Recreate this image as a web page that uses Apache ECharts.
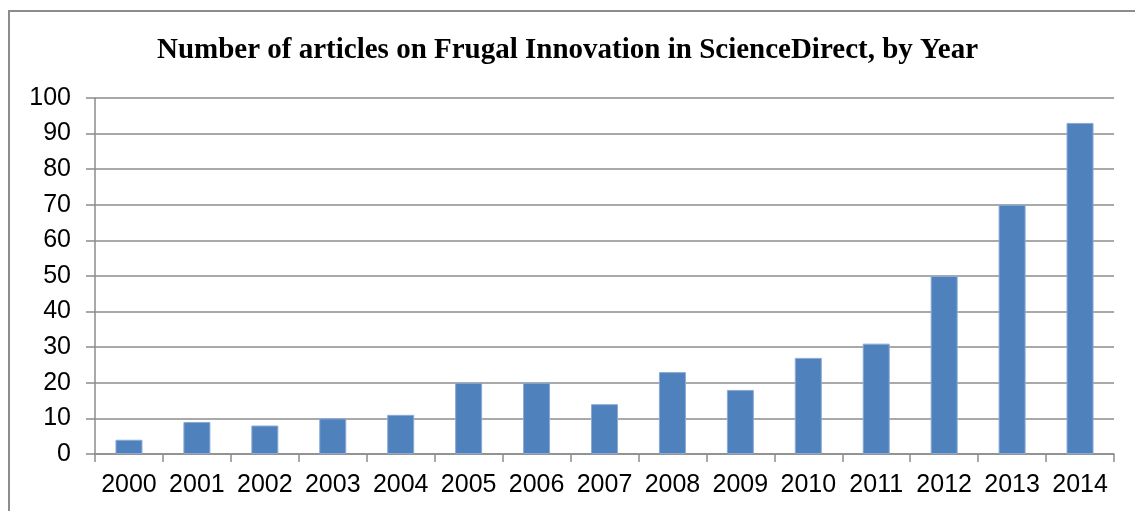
<!DOCTYPE html>
<html>
<head>
<meta charset="utf-8">
<script src="https://cdn.jsdelivr.net/npm/echarts@6/dist/echarts.min.js"></script>
<style>
  html, body { margin: 0; padding: 0; background: #fff; }
  #chart { width: 1135px; height: 511px; }
</style>
</head>
<body>
<div id="chart"></div>
<script>
var years = ['2000', '2001', '2002', '2003', '2004', '2005', '2006', '2007',
  '2008', '2009', '2010', '2011', '2012', '2013', '2014'];
var articles = [4, 9, 8, 10, 11, 20, 20, 14, 23, 18, 27, 31, 50, 70, 93];
var titleText = 'Number of articles on Frugal Innovation in ScienceDirect, by Year';

var chart = echarts.init(document.getElementById('chart'));
var gray = '#8c8c8c';

var option = {
  animation: false,
  title: {
    text: titleText,
    left: 'center',
    top: 31,
    textStyle: {
      fontFamily: 'Liberation Serif',
      fontWeight: 'bold',
      fontSize: 29,
      color: '#000'
    }
  },
  // chart frame: only the top and left edges are visible
  graphic: [{
    type: 'polyline',
    shape: { points: [[9, 511], [9, 11], [1135, 11]] },
    style: { stroke: gray, lineWidth: 2, fill: null }
  }],
  grid: { left: 95, right: 21, top: 98, bottom: 57 },
  xAxis: {
    type: 'category',
    data: years,
    axisLine: { lineStyle: { color: gray, width: 1.5 } },
    axisTick: { show: true, alignWithLabel: false, length: 8, lineStyle: { color: gray, width: 1.5 } },
    axisLabel: {
      interval: 0,
      margin: 19,
      color: '#000',
      fontFamily: 'Liberation Sans',
      fontSize: 25
    }
  },
  yAxis: {
    type: 'value',
    min: 0,
    max: 100,
    interval: 10,
    axisLine: { show: true, lineStyle: { color: gray, width: 1.5 } },
    axisTick: { show: true, length: 9, lineStyle: { color: gray, width: 1.5 } },
    splitLine: { lineStyle: { color: gray, width: 1.5 } },
    axisLabel: {
      margin: 24,
      color: '#000',
      fontFamily: 'Liberation Sans',
      fontSize: 25
    }
  },
  series: [{
    type: 'bar',
    data: articles,
    barWidth: 27,
    itemStyle: { color: '#4f81bd', borderColor: '#8aaad6', borderWidth: 1 }
  }]
};

chart.setOption(option);
</script>
</body>
</html>
